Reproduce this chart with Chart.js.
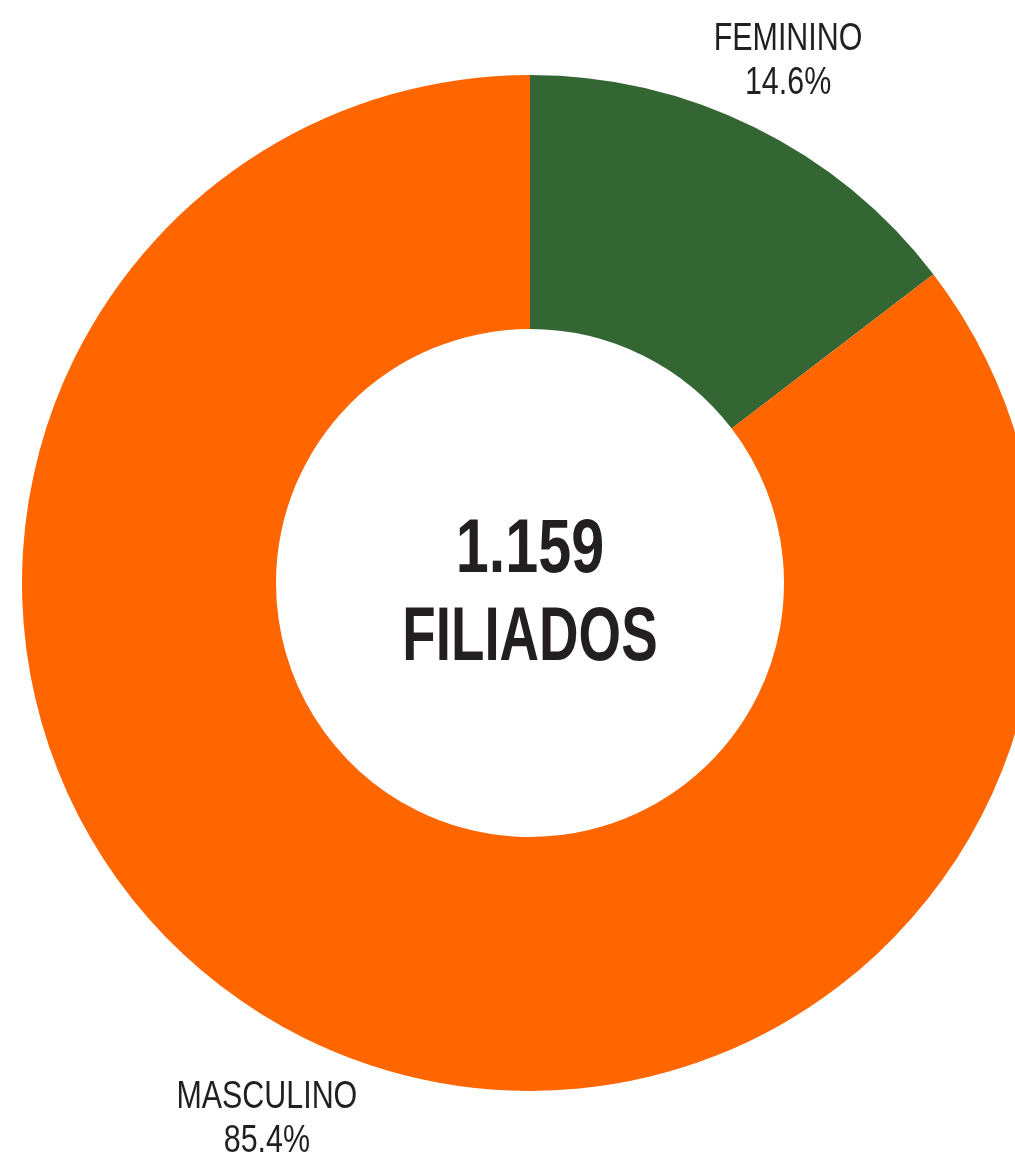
<!DOCTYPE html>
<html>
<head>
<meta charset="utf-8">
<script src="https://cdn.jsdelivr.net/npm/chart.js@4"></script>
<style>
  html, body { margin: 0; padding: 0; background: #fff; overflow: hidden; }
  #wrap { position: absolute; left: 0; top: 0; width: 1060px; height: 1166px; }
</style>
</head>
<body>
<div id="wrap"><canvas id="grafico"></canvas></div>
<script>
var categorias = ["FEMININO", "MASCULINO"];
var porcentagens = [14.6, 85.4];
var cores = ["#336633", "#FF6600"];
var totalFiliados = "1.159";
var rotuloCentro = "FILIADOS";

// texto condensado: Liberation Sans comprimido na horizontal
function textoEstreito(ctx, txt, x, y, font, escala) {
  ctx.save();
  ctx.font = font;
  ctx.translate(x, y);
  ctx.scale(escala, 1);
  ctx.fillText(txt, 0, 0);
  ctx.restore();
}

var pluginTextos = {
  id: "textos",
  afterDraw: function (chart) {
    var ctx = chart.ctx;
    var arco = chart.getDatasetMeta(0).data[0];
    var cx = arco.x, cy = arco.y, R = arco.outerRadius;
    ctx.save();
    ctx.fillStyle = "#231F20";
    ctx.textAlign = "center";
    ctx.textBaseline = "alphabetic";

    // centro
    textoEstreito(ctx, totalFiliados, cx, cy - 11, "bold 76px 'Liberation Sans'", 0.78);
    textoEstreito(ctx, rotuloCentro, cx, cy + 77, "bold 76px 'Liberation Sans'", 0.72);

    // rótulos das fatias
    var ancoras = [
      { dx: 0.508, dy: -1.049 },
      { dx: -0.518, dy: 1.033 }
    ];
    for (var i = 0; i < categorias.length; i++) {
      var x = cx + ancoras[i].dx * R;
      var y = cy + ancoras[i].dy * R;
      textoEstreito(ctx, categorias[i], x, y, "39px 'Liberation Sans'", 0.78);
      textoEstreito(ctx, porcentagens[i].toFixed(1) + "%", x, y + 44, "39px 'Liberation Sans'", 0.78);
    }
    ctx.restore();
  }
};

var ctx = document.getElementById("grafico");
var meuGrafico = new Chart(ctx, {
  type: "doughnut",
  data: {
    labels: categorias,
    datasets: [{
      data: porcentagens,
      backgroundColor: cores,
      borderWidth: 0
    }]
  },
  options: {
    responsive: true,
    maintainAspectRatio: false,
    animation: false,
    cutout: "50%",
    layout: { padding: { left: 22, right: 22, top: 75, bottom: 75 } },
    plugins: {
      legend: { display: false },
      tooltip: { enabled: false },
      title: { display: false }
    }
  },
  plugins: [pluginTextos]
});
</script>
</body>
</html>
